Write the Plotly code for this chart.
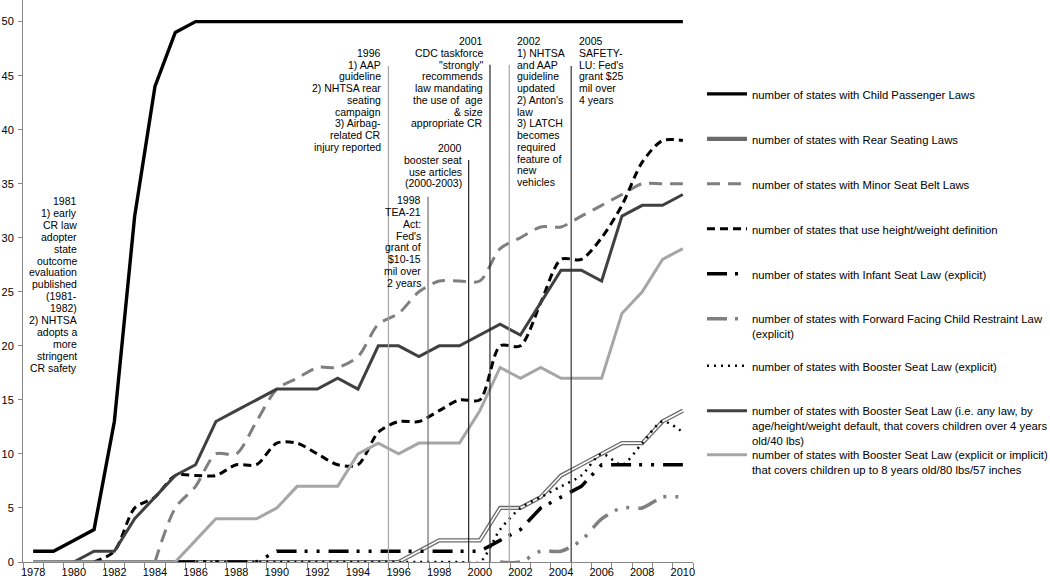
import plotly.graph_objects as go

# Jahre (Kategorien der x-Achse)
years = list(range(1978, 2011))

# Reihen, 1978-2010 (None = noch keine Daten)
child_passenger = [1, 1, 2, 3, 13, 32, 44, 49, 50, 50, 50, 50, 50, 50, 50, 50, 50,
                   50, 50, 50, 50, 50, 50, 50, 50, 50, 50, 50, 50, 50, 50, 50, 50]
rear_seating = [0, 0, 0, 0, 0, 0, 0, 0, 0, 0, 0, 0, 0, 0, 0, 0, 0,
                0, 0, 1, 2, 2, 2, 5, 5, 6, 8, 9, 10, 11, 11, 13, 14]
minor_belt = [None, None, None, None, None, None, 0, 5, 7, 10, 10, 13, 16, 17, 18, 18, 19,
              22, 23, 25, 26, 26, 26, 29, 30, 31, 31, 32, 33, 34, 35, 35, 35]
height_weight = [None, None, None, 0, 1, 5, 6, 8, 8, 8, 9, 9, 11, 11, 10, 9, 9,
                 12, 13, 13, 14, 15, 15, 20, 20, 24, 28, 28, 30, 33, 37, 39, 39]
infant_seat = [None, None, None, None, None, None, None, 0, 0, 0, 0, 0, 1, 1, 1, 1, 1,
               1, 1, 1, 1, 1, 1, 2, 3, 5, 6, 7, 9, 9, 9, 9, 9]
forward_facing = [None, None, None, None, None, None, None, None, None, None, None, None,
                  None, None, None, None, None, None, None, None, None, None, None,
                  0, 0, 1, 1, 2, 4, 5, 5, 6, 6]
booster_explicit = [None, None, None, None, None, None, None, 0, 0, 0, 0, 0, 0, 0, 0, 0, 0,
                    0, 0, 0, 0, 0, 0, 3, 5, 6, 7, 8, 10, 9, 11, 13, 12]
booster_any = [None, None, 0, 1, 1, 4, 6, 8, 9, 13, 14, 15, 16, 16, 16, 17, 16,
               20, 20, 19, 20, 20, 21, 22, 21, 24, 27, 27, 26, 32, 33, 33, 34]
booster_8yrs = [0, 0, 0, 0, 0, 0, 0, 0, 2, 4, 4, 4, 5, 7, 7, 7, 10,
                11, 10, 11, 11, 11, 14, 18, 17, 18, 17, 17, 17, 23, 25, 28, 29]

# Ereignisse (senkrechte Linien + Text)
event_year = [1995.5, 1997.45, 1999.45, 2000.5, 2001.45, 2004.5]
event_text = [
    ["1996", "1) AAP", "guideline", "2) NHTSA rear", "seating", "campaign",
     "3) Airbag-", "related CR", "injury reported"],
    ["1998", "TEA-21", "Act:", "Fed's", "grant of", "$10-15", "mil over", "2 years"],
    ["2000", "booster seat", "use articles", "(2000-2003)"],
    ["2001", "CDC taskforce", "\"strongly\"", "recommends", "law mandating",
     "the use of  age", "& size", "appropriate CR"],
    ["2002", "1) NHTSA", "and AAP", "guideline", "updated", "2) Anton's", "law",
     "3) LATCH", "becomes", "required", "feature of", "new", "vehicles"],
    ["2005", "SAFETY-", "LU: Fed's", "grant $25", "mil over", "4 years"],
]
note_1981 = ["1981", "1) early", "CR law", "adopter", "state", "outcome", "evaluation",
             "published", "(1981-", "1982)", "2) NHTSA", "adopts a", "more",
             "stringent", "CR safety"]

# Layout-Parameter der Ereignisse
event_top = [45.9, 33.8, 37.2, 46.0, 46.0, 45.9]
event_text_y = [47.1, 33.45, 38.3, 48.2, 48.2, 48.2]
event_side = ['left', 'left', 'left', 'left', 'right', 'right']
event_color = ['#a6a6a6', '#6e6e6e', '#262626', '#262626', '#a6a6a6', '#333333']

FONT = "Liberation Sans, Arial, sans-serif"
LINE_H = 11.75

FIG_W, FIG_H = 1050, 580
M_L, M_R, M_T, M_B = 23, 357, 0, 18
PLOT_H = FIG_H - M_T - M_B  # 562
Y_TOP = 52

fig = go.Figure()

series = [
    ("number of states with Child Passenger Laws", child_passenger,
     dict(color='black', width=3.4), 'linear'),
    ("number of states with Rear Seating Laws", rear_seating,
     dict(color='#6a6a6a', width=4.2), 'linear'),
    ("number of states with Minor Seat Belt Laws", minor_belt,
     dict(color='#7f7f7f', width=3, dash='13px,8px'), 'spline'),
    ("number of states that use height/weight definition", height_weight,
     dict(color='black', width=3, dash='8px,5px'), 'spline'),
    ("number of states with Infant Seat Law (explicit)", infant_seat,
     dict(color='black', width=3.5, dash='20px,8px,3px,9px,3px,9px'), 'linear'),
    ("number of states with Forward Facing Child Restraint Law<br>(explicit)", forward_facing,
     dict(color='#7f7f7f', width=3.5, dash='20px,8px,3px,9px,3px,9px'), 'spline'),
    ("number of states with Booster Seat Law (explicit)", booster_explicit,
     dict(color='black', width=2.5, dash='2px,5px'), 'spline'),
    ("number of states with Booster Seat Law (i.e. any law, by<br>age/height/weight default, "
     "that covers children over 4 years<br>old/40 lbs)", booster_any,
     dict(color='#404040', width=3), 'linear'),
    ("number of states with Booster Seat Law (explicit or implicit)<br>"
     "that covers children up to 8 years old/80 lbs/57 inches", booster_8yrs,
     dict(color='#a6a6a6', width=3), 'linear'),
]

# Position der ersten Textzeile jedes Legendeneintrags (Pixel von oben)
legend_px = [95, 140, 185, 230, 275, 320, 367, 412, 456]

for i, (name, vals, line, shape) in enumerate(series):
    lg = 'legend' if i == 0 else 'legend%d' % (i + 1)
    fig.add_trace(go.Scatter(
        x=years, y=vals, mode='lines', name=name, line=line,
        line_shape=shape, line_smoothing=0.8 if shape == 'spline' else None,
        legend=lg, connectgaps=False
    ))
    if i == 1:
        # Doppellinie: weisse Innenlinie
        fig.add_trace(go.Scatter(
            x=years, y=vals, mode='lines', line=dict(color='white', width=1.6),
            showlegend=False, hoverinfo='skip'
        ))

# Senkrechte Linien und Texte
for yr, top, ty, side, col, lines in zip(event_year, event_top, event_text_y,
                                           event_side, event_color, event_text):
    fig.add_shape(type='line', x0=yr, x1=yr, y0=0, y1=top, xref='x', yref='y',
                  line=dict(color=col, width=1.2))
    for k, txt in enumerate(lines):
        fig.add_annotation(
            x=yr, y=ty, xref='x', yref='y', text=txt, showarrow=False,
            xanchor='right' if side == 'left' else 'left',
            xshift=-5 if side == 'left' else 6, yshift=-k * LINE_H,
            font=dict(family=FONT, size=10.5, color='black'))

for k, txt in enumerate(note_1981):
    fig.add_annotation(
        x=1980.28, y=33.4, xref='x', yref='y', text=txt, showarrow=False,
        xanchor='right', yshift=-k * 11.9,
        font=dict(family=FONT, size=10.5, color='black'))

legends = {}
for i, py in enumerate(legend_px):
    key = 'legend' if i == 0 else 'legend%d' % (i + 1)
    top_px = py - 15
    legends[key] = dict(
        x=1.0134, y=(PLOT_H - top_px + M_T) / PLOT_H, xanchor='left', yanchor='top',
        valign='top', bgcolor='rgba(0,0,0,0)', borderwidth=0,
        font=dict(family=FONT, size=11.3, color='black'), itemwidth=40)

fig.update_layout(
    width=FIG_W, height=FIG_H,
    margin=dict(l=M_L, r=M_R, t=M_T, b=M_B, autoexpand=False),
    paper_bgcolor='white', plot_bgcolor='white',
    font=dict(family=FONT, size=11, color='black'),
    xaxis=dict(range=[1977.5, 2010.5], tickvals=list(range(1978, 2011, 2)),
               ticks='', showgrid=False, zeroline=False, showline=True,
               linecolor='#868686', linewidth=1,
               tickfont=dict(family=FONT, size=11, color='black'),
               minor=dict(tick0=1977.5, dtick=1, ticks='outside', ticklen=5,
                          tickcolor='#868686', showgrid=False)),
    yaxis=dict(range=[0, Y_TOP], tickvals=list(range(0, 51, 5)), ticks='outside',
               ticklen=4, tickcolor='#868686', showgrid=False, zeroline=False,
               showline=True, linecolor='#868686', linewidth=1,
               ticklabelstandoff=2,
               tickfont=dict(family=FONT, size=11, color='black')),
    **legends
)

# Browser-Standardrand der Seite entfernen, Toolbar aus
fig.write_html("out.html", config={'displayModeBar': False},
               post_script="document.body.style.margin='0';")
